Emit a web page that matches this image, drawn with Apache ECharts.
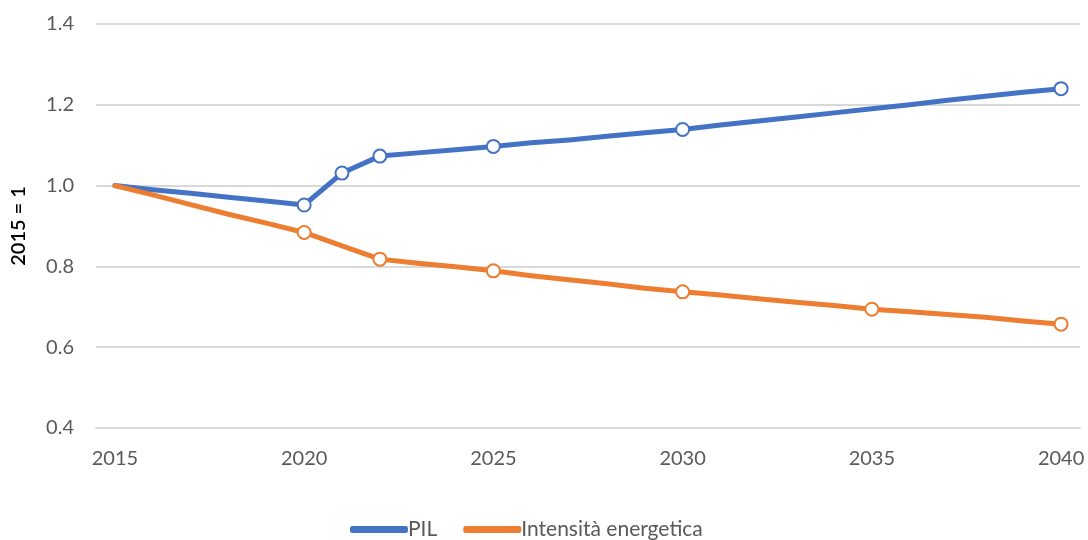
<!DOCTYPE html>
<html>
<head>
<meta charset="utf-8">
<script src="https://cdn.jsdelivr.net/npm/echarts@6/dist/echarts.min.js"></script>
<style>
  html, body { margin: 0; padding: 0; background: #fff; }
  #chart { width: 1088px; height: 540px; }
</style>
</head>
<body>
<div id="chart"></div>
<script>
const years = ['2015', '2016', '2017', '2018', '2019', '2020', '2021', '2022', '2023', '2024', '2025', '2026', '2027',
    '2028', '2029', '2030', '2031', '2032', '2033', '2034', '2035', '2036', '2037', '2038', '2039', '2040'];

// 2015 = 1
const pil = [1.0, 0.99, 0.981, 0.971, 0.962, 0.952, 1.031, 1.073, 1.081, 1.089, 1.097, 1.106, 1.113, 1.122, 1.131, 1.139,
    1.150, 1.160, 1.170, 1.180, 1.190, 1.200, 1.211, 1.221, 1.231, 1.240];
const intensita = [1.0, 0.977, 0.953, 0.929, 0.907, 0.884, 0.851, 0.818, 0.808, 0.799, 0.789, 0.777, 0.767, 0.757, 0.746, 0.737,
    0.729, 0.720, 0.711, 0.703, 0.694, 0.688, 0.681, 0.674, 0.665, 0.657];

// years that carry a hollow marker in the original
const pilMarkers = ['2020', '2021', '2022', '2025', '2030', '2040'];
const intensitaMarkers = ['2020', '2022', '2025', '2030', '2035', '2040'];

const font = 'Lato, "Noto Sans", sans-serif';
const grey = '#595959';

function withMarkers(values, marked) {
    return values.map((v, i) => ({
        value: v,
        symbol: marked.includes(years[i]) ? 'circle' : 'none'
    }));
}

function lineSeries(name, values, marked, color) {
    return {
        name: name,
        type: 'line',
        data: withMarkers(values, marked),
        symbolSize: 13,
        showAllSymbol: true,
        itemStyle: { color: '#fff', borderColor: color, borderWidth: 2 },
        lineStyle: { color: color, width: 5, cap: 'round', join: 'round' },
        emphasis: { disabled: true },
        animation: false
    };
}

const chart = echarts.init(document.getElementById('chart'));
chart.setOption({
    backgroundColor: '#fff',
    textStyle: { fontFamily: font },
    grid: { left: 96, right: 8, top: 24, bottom: 112, containLabel: false },
    legend: {
        bottom: -5,
        left: 345,
        itemGap: 26,
        itemWidth: 56,
        itemHeight: 5,
        icon: 'roundRect',
        textStyle: { color: grey, fontSize: 21, fontFamily: font, padding: [0, 0, 0, -4] },
        data: [
            { name: 'PIL', itemStyle: { color: '#4472C4' } },
            { name: 'Intensità energetica', itemStyle: { color: '#ED7D31' } }
        ]
    },
    xAxis: {
        type: 'category',
        data: years,
        boundaryGap: true,
        axisLine: { lineStyle: { color: '#d9d9d9', width: 2 } },
        axisTick: { show: false },
        axisLabel: { interval: 4, color: grey, fontSize: 20, margin: 21, fontFamily: font }
    },
    yAxis: {
        type: 'value',
        min: 0.4,
        max: 1.4,
        interval: 0.2,
        name: '2015 = 1',
        nameLocation: 'middle',
        nameGap: 67,
        nameTextStyle: { color: '#000', fontSize: 20, fontWeight: 600, fontFamily: font },
        axisLine: { show: false },
        axisTick: { show: false },
        axisLabel: { color: grey, fontSize: 20, margin: 22, fontFamily: font, formatter: v => v.toFixed(1) },
        splitLine: { lineStyle: { color: '#d9d9d9', width: 2 } }
    },
    series: [
        lineSeries('PIL', pil, pilMarkers, '#4472C4'),
        lineSeries('Intensità energetica', intensita, intensitaMarkers, '#ED7D31')
    ]
});
</script>
</body>
</html>
